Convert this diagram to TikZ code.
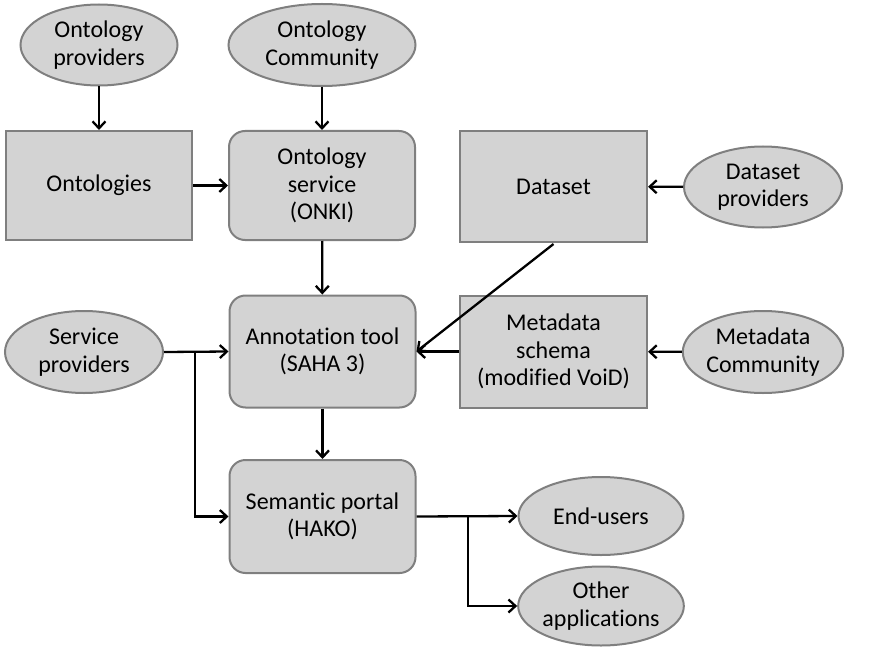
\documentclass[tikz,border=0pt]{standalone}
\usepackage{fontspec}
\setmainfont{Carlito}[Ligatures={NoCommon}]
\usetikzlibrary{shapes.geometric,arrows.meta}
\definecolor{boxfill}{HTML}{D3D3D3}
\definecolor{boxline}{HTML}{7F7F7F}
\begin{document}
\begin{tikzpicture}[x=1pt,y=-1pt,
  every node/.style={font=\fontsize{24}{27.5}\selectfont, align=center, inner sep=0pt},
  oval/.style={ellipse, draw=boxline, fill=boxfill, line width=2pt},
  sqbox/.style={rectangle, draw=boxline, fill=boxfill, line width=2pt},
  rbox/.style={rectangle, rounded corners=16pt, draw=boxline, fill=boxfill, line width=2pt},
  conn/.style={line width=2.3pt, -{Straight Barb[length=7pt,width=13pt,line width=2.3pt]}}]
\useasboundingbox (0,0) rectangle (885,647);
% ellipses
\node[oval, minimum width=157, minimum height=81] (op) at (99,45) {Ontology\\providers};
\node[oval, minimum width=187, minimum height=82] (oc) at (322,45) {Ontology\\Community};
\node[oval, minimum width=158, minimum height=81] (dp) at (763,187) {Dataset\\providers};
\node[oval, minimum width=158, minimum height=82] (sp) at (84,352) {Service\\providers};
\node[oval, minimum width=158, minimum height=82] (mc) at (763,352) {Metadata\\Community};
\node[oval, minimum width=165, minimum height=78] (eu) at (601,516) {End-users};
\node[oval, minimum width=165, minimum height=79] (oa) at (601,606) {Other\\applications};
% boxes
\node[sqbox, minimum width=186, minimum height=109] (ont) at (99,185.5) {Ontologies};
\node[rbox, minimum width=186, minimum height=109] (os) at (322,185.5) {Ontology\\service\\(ONKI)};
\node[sqbox, minimum width=187, minimum height=111] (ds) at (553.5,186.5) {Dataset};
\node[rbox, minimum width=186, minimum height=112] (at) at (322.5,351.5) {Annotation tool\\(SAHA 3)};
\node[sqbox, minimum width=187, minimum height=112] (ms) at (553.5,351.5) {Metadata\\schema\\(modified VoiD)};
\node[rbox, minimum width=186, minimum height=113] (pt) at (322.5,516.5) {Semantic portal\\(HAKO)};
% connectors
\draw[conn] (op) -- (ont);
\draw[conn] (oc) -- (os);
\draw[conn] (ont) -- (os);
\draw[conn] (dp) -- (ds);
\draw[conn] (os) -- (at);
\draw[conn] (at) -- (pt);
\draw[conn] (mc) -- (ms);
\draw[conn] (ms) -- (at);
\draw[conn] (ds.south) ++(0,1) coordinate (dsb) (dsb) -- (at.east);
\draw[conn] (sp.east) -- (at.west);
\coordinate (spb) at (195,352);
\draw[conn] (spb) |- (pt.west);
\coordinate (ptb) at (468,516.5);
\draw[conn] (pt.east) -- (eu.west);
\draw[conn] (ptb) |- (oa.west);
\end{tikzpicture}
\end{document}
